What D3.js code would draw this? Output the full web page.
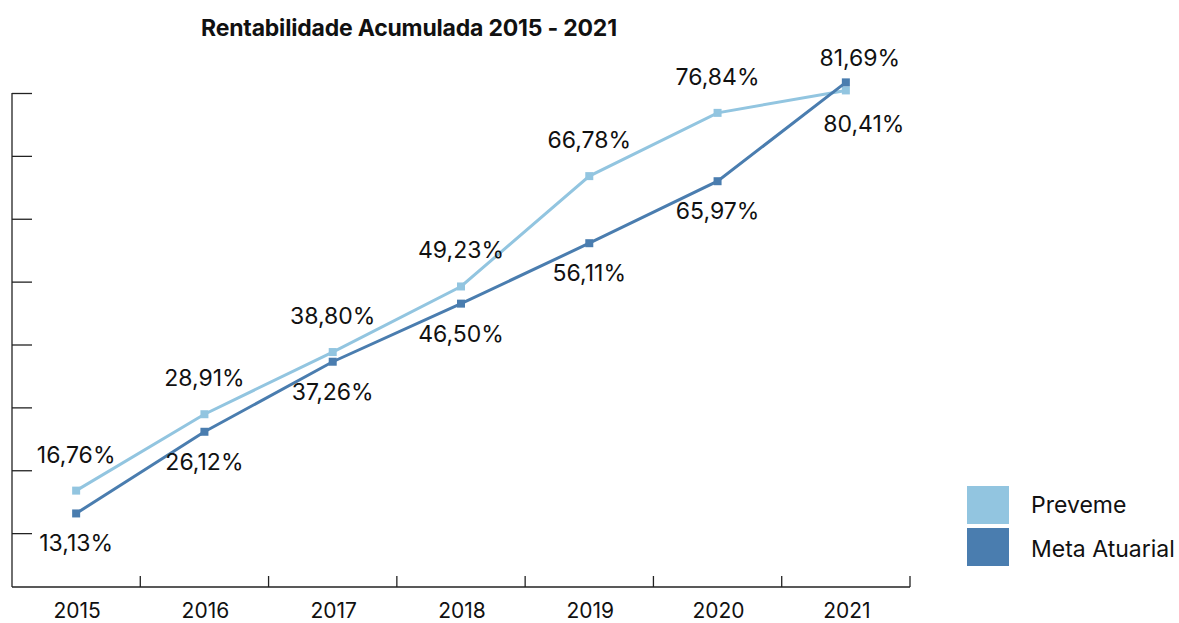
<!DOCTYPE html>
<html><head><meta charset="utf-8">
<script src="https://cdn.jsdelivr.net/npm/d3@7"></script>
<style>
html,body{margin:0;padding:0;background:#fff;}
text{font-family:Inter,"Noto Sans",sans-serif;fill:#111;}
</style></head>
<body><svg id="c" width="1179" height="623"></svg>
<script>
const years = ["2015","2016","2017","2018","2019","2020","2021"];
const preveme = [16.76, 28.91, 38.80, 49.23, 66.78, 76.84, 80.41];
const meta = [13.13, 26.12, 37.26, 46.50, 56.11, 65.97, 81.69];
const yTicks = [10,20,30,40,50,60,70,80];
const seriesNames = ["Preveme","Meta Atuarial"];
const colors = ["#92c5e0","#4a7daf"];
const title = "Rentabilidade Acumulada 2015 - 2021";

const svg = d3.select("#c");
const axisY = 587, left = 12, right = 910;
const x = d3.scaleBand().domain(years).range([left, right]).padding(0);
const y = d3.scaleLinear().domain([0, 80]).range([596, 93]);
const fmt = v => v.toFixed(2).replace(".", ",") + "%";

svg.append("text").attr("x", 409).attr("y", 28).attr("text-anchor","middle")
  .attr("dominant-baseline","central").style("font-size","23px").style("font-weight","700")
  .style("letter-spacing","-0.2px").text(title);

// y axis
const gy = svg.append("g").attr("transform", `translate(${left},0)`)
  .call(d3.axisLeft(y).tickValues(yTicks).tickSize(-20).tickFormat(""));
gy.select(".domain").remove();
gy.selectAll(".tick line").attr("stroke","#222").attr("stroke-width",1.3);
svg.append("line").attr("x1",left).attr("x2",left).attr("y1",y(80)).attr("y2",axisY)
  .attr("stroke","#222").attr("stroke-width",1.3);

// x axis
svg.append("line").attr("x1",left).attr("x2",right).attr("y1",axisY).attr("y2",axisY)
  .attr("stroke","#222").attr("stroke-width",1.3);
const bounds = years.map(d => x(d) + x.bandwidth());
svg.selectAll(".xt").data(bounds).join("line").attr("class","xt")
  .attr("x1",d=>d).attr("x2",d=>d).attr("y1",axisY).attr("y2",axisY-11)
  .attr("stroke","#222").attr("stroke-width",1.3);
svg.selectAll(".xl").data(years).join("text").attr("class","xl")
  .attr("x",d=>x(d)+x.bandwidth()/2+1).attr("y",610).attr("text-anchor","middle")
  .attr("dominant-baseline","central").style("font-size","21px").text(d=>d);

const cx = d => x(d) + x.bandwidth()/2;
const line = d3.line().x((v,i)=>cx(years[i])).y(v=>y(v));
[preveme, meta].forEach((vals, s) => {
  svg.append("path").datum(vals).attr("d", line).attr("fill","none")
    .attr("stroke", colors[s]).attr("stroke-width", 3);
  svg.selectAll(".m"+s).data(vals).join("rect").attr("class","m"+s)
    .attr("x",(v,i)=>cx(years[i])-4).attr("y",v=>y(v)-4).attr("width",8).attr("height",8)
    .attr("fill", colors[s]);
});

// labels
const last = years.length - 1;
svg.selectAll(".lp").data(preveme).join("text").attr("class","lp")
  .attr("x",(v,i)=>cx(years[i]) + (i===last?18:0))
  .attr("y",(v,i)=> i===last ? y(v)+34 : y(v)-36)
  .attr("text-anchor","middle").attr("dominant-baseline","central")
  .style("font-size","23px").text(fmt);
svg.selectAll(".lm").data(meta).join("text").attr("class","lm")
  .attr("x",(v,i)=>cx(years[i]) + (i===last?14:0))
  .attr("y",(v,i)=> i===last ? y(v)-24 : y(v)+30)
  .attr("text-anchor","middle").attr("dominant-baseline","central")
  .style("font-size","23px").text(fmt);

// legend
const lg = svg.append("g").attr("transform","translate(967,486)");
seriesNames.forEach((n,i)=>{
  lg.append("rect").attr("x",0).attr("y",i*42).attr("width",42).attr("height",38).attr("fill",colors[i]);
  lg.append("text").attr("x",64).attr("y",i*44+19).attr("dominant-baseline","central")
    .style("font-size","23px").text(n);
});
</script></body></html>
